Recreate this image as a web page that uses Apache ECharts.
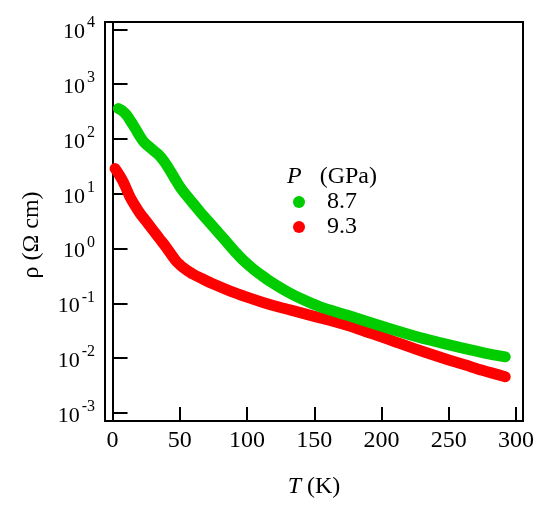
<!DOCTYPE html>
<html><head><meta charset="utf-8">
<script src="https://cdn.jsdelivr.net/npm/echarts@6/dist/echarts.min.js"></script>
<style>html,body{margin:0;padding:0;background:#fff}#c{width:550px;height:511px}</style>
</head><body><div id="c"></div>
<script>
// P = 8.7 GPa
const temp87 = [4.3, 7, 10.6, 13, 15.5, 18, 20.5, 23, 26, 30, 34, 38, 42, 46, 50, 55, 60, 65, 72.5, 80, 86, 92, 98, 104.8, 111, 117.2, 129.6, 142, 154.4, 174.3, 201.5, 226.3, 251.1, 275.9, 292];
const rho87  = [358, 330, 270, 220, 177, 140, 110, 90, 76, 63, 52, 40, 28.5, 19.5, 13.5, 9.3, 6.6, 4.7, 2.9, 1.8, 1.22, 0.83, 0.585, 0.42, 0.322, 0.252, 0.165, 0.116, 0.0865, 0.0611, 0.0374, 0.0246, 0.0173, 0.01256, 0.0106];
// P = 9.3 GPa
const temp93 = [1.9, 5, 8, 10.5, 13, 16.5, 20.5, 25, 30, 35, 40, 45, 47.8, 50, 52.5, 55, 57.5, 60, 65, 75, 87.5, 100, 112.5, 125, 137.5, 150, 162.5, 175, 187.5, 200, 212.5, 225, 237.5, 250, 262.5, 275, 292];
const rho93  = [28.8, 22, 16.4, 12.0, 8.75, 6.2, 4.36, 3.15, 2.18, 1.51, 1.05, 0.70, 0.573, 0.51, 0.45, 0.405, 0.37, 0.34, 0.295, 0.225, 0.168, 0.13, 0.103, 0.084, 0.07, 0.058, 0.0485, 0.0395, 0.031, 0.0245, 0.019, 0.0148, 0.0117, 0.0093, 0.0075, 0.006, 0.00458];
const seriesNames = ['8.7', '9.3'];
const xTickValues = [0, 50, 100, 150, 200, 250, 300];
const yTickValues = [0.001, 0.01, 0.1, 1, 10, 100, 1000, 10000];

const FONT = 'Liberation Serif';
const zip = (a, b) => a.map((v, i) => [v, b[i]]);

const chart = echarts.init(document.getElementById('c'), null, {renderer: 'canvas'});
chart.setOption({
  animation: false,
  backgroundColor: '#fff',
  grid: {left: 105, top: 22, right: 27, bottom: 90, show: true, borderColor: '#000', borderWidth: 2, backgroundColor: 'transparent'},
  xAxis: {
    type: 'value', min: -5.6, max: 305.2,
    axisLine: {show: true, lineStyle: {color: '#000', width: 2}},
    axisTick: {show: true, inside: true, length: 14, lineStyle: {color: '#000', width: 2}, customValues: xTickValues},
    axisLabel: {color: '#000', fontFamily: FONT, fontSize: 24, margin: 8, customValues: xTickValues},
    splitLine: {show: false}
  },
  yAxis: {
    type: 'log', logBase: 10, min: Math.pow(10, -3.146), max: Math.pow(10, 4.133),
    axisLine: {show: true, lineStyle: {color: '#000', width: 2}},
    axisTick: {show: true, inside: true, length: 15, lineStyle: {color: '#000', width: 2}, customValues: yTickValues},
    axisLabel: {
      color: '#000', margin: 10, customValues: yTickValues,
      formatter: function (v) { return '{b|10}{s|' + Math.round(Math.log10(v)) + '}'; },
      rich: {
        b: {fontFamily: FONT, fontSize: 22, color: '#000', lineHeight: 28, verticalAlign: 'bottom'},
        s: {fontFamily: FONT, fontSize: 16, color: '#000', verticalAlign: 'top', padding: [0, 0, 0, 2]}
      }
    },
    splitLine: {show: false}
  },
  legend: {
    orient: 'vertical', left: 288, top: 185,
    icon: 'circle', itemWidth: 12, itemHeight: 12, itemGap: 1,
    data: seriesNames,
    textStyle: {fontFamily: FONT, fontSize: 24, color: '#000', lineHeight: 24, padding: [0, 0, 0, 17]}
  },
  graphic: [
    {type: 'text', left: 287, top: 165, style: {
      text: '{i|P}{n|(GPa)}',
      rich: {i: {fontFamily: FONT, fontStyle: 'italic', fontSize: 24, fill: '#000', padding: [0, 18, 0, 0]}, n: {fontFamily: FONT, fontSize: 24, fill: '#000'}}
    }},
    {type: 'text', x: 32, y: 235, rotation: Math.PI / 2, style: {
      text: 'ρ (Ω cm)', fontFamily: FONT, fontSize: 24, fill: '#000', align: 'center', verticalAlign: 'middle'
    }},
    {type: 'text', x: 314, y: 487, style: {
      text: '{i|T}{n| (K)}', align: 'center', verticalAlign: 'middle',
      rich: {i: {fontFamily: FONT, fontStyle: 'italic', fontSize: 24, fill: '#000'}, n: {fontFamily: FONT, fontSize: 24, fill: '#000'}}
    }}
  ],
  series: [
    {name: seriesNames[0], type: 'line', data: zip(temp87, rho87), smooth: 0.3, showSymbol: false, color: '#00cc00',
      lineStyle: {width: 11, cap: 'round', join: 'round', color: '#00cc00'}, z: 3},
    {name: seriesNames[1], type: 'line', data: zip(temp93, rho93), smooth: 0.3, showSymbol: false, color: '#ff0000',
      lineStyle: {width: 11, cap: 'round', join: 'round', color: '#ff0000'}, z: 2}
  ]
});
</script></body></html>
